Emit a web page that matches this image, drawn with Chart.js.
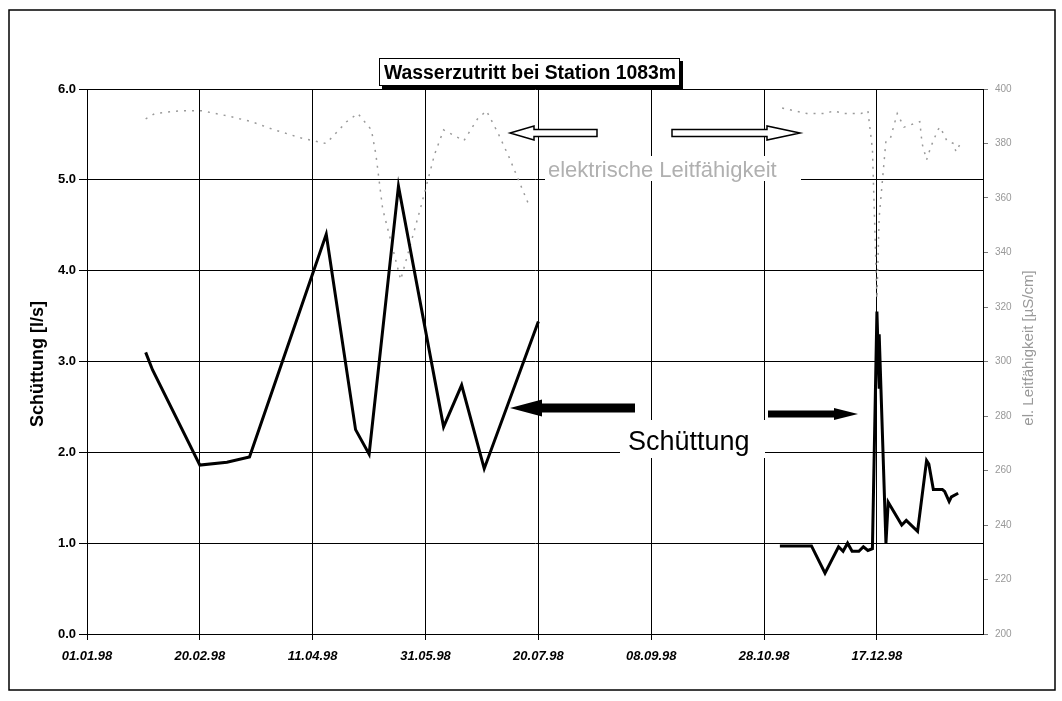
<!DOCTYPE html>
<html>
<head>
<meta charset="utf-8">
<script src="https://cdn.jsdelivr.net/npm/chart.js@4.4.1/dist/chart.umd.min.js"></script>
<style>
  body { margin: 0; background: #fff; }
  #wrap { width: 1062px; height: 701px; }
</style>
</head>
<body>
<div id="wrap"><canvas id="chart" width="1062" height="701"></canvas></div>
<script>
const xTickLabels = ['01.01.98', '20.02.98', '11.04.98', '31.05.98', '20.07.98', '08.09.98', '28.10.98', '17.12.98'];
const xMaxDate = '02.02.99';
const leftTicks = [0, 1, 2, 3, 4, 5, 6];
const rightTicks = [200, 220, 240, 260, 280, 300, 320, 340, 360, 380, 400];

const schDates = ['27.01.98', '30.01.98', '20.02.98', '04.03.98', '14.03.98', '17.04.98', '30.04.98', '06.05.98',
    '19.05.98', '08.06.98', '16.06.98', '26.06.98', '20.07.98', '01.09.98',
    '04.11.98', '18.11.98', '24.11.98', '30.11.98', '02.12.98', '04.12.98', '06.12.98', '09.12.98', '11.12.98',
    '13.12.98', '15.12.98', '17.12.98', '18.12.98', '18.12.98', '21.12.98', '22.12.98', '28.12.98', '30.12.98',
    '04.01.99', '08.01.99', '09.01.99', '11.01.99', '15.01.99', '16.01.99', '18.01.99', '19.01.99', '22.01.99'];
const schValues = [3.10, 2.91, 1.86, 1.89, 1.95, 4.40, 2.25, 1.98,
    4.93, 2.28, 2.74, 1.82, 3.44, null,
    0.97, 0.97, 0.67, 0.96, 0.91, 1.00, 0.91, 0.91, 0.96,
    0.92, 0.94, 3.55, 2.70, 3.30, 1.00, 1.45, 1.20, 1.25,
    1.13, 1.91, 1.87, 1.59, 1.59, 1.57, 1.46, 1.51, 1.55];

const lfDates = ['27.01.98', '31.01.98', '11.02.98', '21.02.98', '05.03.98', '15.03.98', '25.03.98', '06.04.98',
    '17.04.98', '26.04.98', '01.05.98', '07.05.98', '09.05.98', '12.05.98', '20.05.98', '29.05.98', '04.06.98',
    '08.06.98', '17.06.98', '23.06.98', '27.06.98', '02.07.98', '07.07.98', '16.07.98', '01.09.98',
    '05.11.98', '16.11.98', '20.11.98', '24.11.98', '28.11.98', '02.12.98', '05.12.98', '10.12.98', '13.12.98',
    '15.12.98', '17.12.98', '18.12.98', '21.12.98', '23.12.98', '26.12.98', '29.12.98',
    '05.01.99', '06.01.99', '08.01.99', '10.01.99', '13.01.99', '14.01.99', '17.01.99', '20.01.99', '21.01.99', '23.01.99'];
const lfValues = [389, 391, 392, 392, 390, 388, 385, 382,
    380, 388, 391, 385, 376, 356, 330, 357, 376,
    385, 381, 389, 392, 384, 375, 357, null,
    393, 391, 391, 391, 392, 391, 391, 391, 392,
    378, 323, 353, 381, 382, 391, 386,
    388, 380, 374, 379, 385, 386, 381, 380, 377, 380];

// days since 01.01.98
function toDay(s) {
    const [d, m, y] = s.split('.').map(Number);
    const year = y < 50 ? 2000 + y : 1900 + y;
    return (Date.UTC(year, m - 1, d) - Date.UTC(1998, 0, 1)) / 86400000;
}

const FONT = 'Arial, "Liberation Sans", sans-serif';

function arrow(ctx, tail, tip, y, shaftHalf, headLen, headHalf, filled) {
    const dir = tip > tail ? 1 : -1;
    const base = tip - dir * headLen;
    ctx.beginPath();
    ctx.moveTo(tail, y - shaftHalf);
    ctx.lineTo(base, y - shaftHalf);
    ctx.lineTo(base, y - headHalf);
    ctx.lineTo(tip, y);
    ctx.lineTo(base, y + headHalf);
    ctx.lineTo(base, y + shaftHalf);
    ctx.lineTo(tail, y + shaftHalf);
    ctx.closePath();
    if (filled) {
        ctx.fillStyle = '#000';
        ctx.fill();
    } else {
        ctx.fillStyle = '#fff';
        ctx.fill();
        ctx.lineWidth = 1.5;
        ctx.strokeStyle = '#000';
        ctx.stroke();
    }
}

// Frame, title box, axis titles and the arrow notes
const decorations = {
    id: 'decorations',
    afterDraw(chart) {
        const ctx = chart.ctx;
        ctx.save();

        // outer frame
        ctx.strokeStyle = '#000';
        ctx.lineWidth = 1.5;
        ctx.strokeRect(9, 10, 1046, 680);

        // title box with shadow
        ctx.fillStyle = '#000';
        ctx.fillRect(382, 61, 301, 28);
        ctx.fillStyle = '#fff';
        ctx.fillRect(379, 58, 301, 28);
        ctx.lineWidth = 1;
        ctx.strokeRect(379.5, 58.5, 300, 27);
        ctx.fillStyle = '#000';
        ctx.font = 'bold 20px ' + FONT;
        ctx.textAlign = 'center';
        ctx.textBaseline = 'middle';
        ctx.fillText('Wasserzutritt bei Station 1083m', 530, 73, 292);

        // left axis title
        ctx.save();
        ctx.translate(38, 364);
        ctx.rotate(-Math.PI / 2);
        ctx.font = 'bold 18px ' + FONT;
        ctx.fillText('Schüttung [l/s]', 0, 0, 130);
        ctx.restore();

        // right axis title
        ctx.save();
        ctx.translate(1029, 348);
        ctx.rotate(-Math.PI / 2);
        ctx.font = '15px ' + FONT;
        ctx.fillStyle = '#999';
        ctx.fillText('el. Leitfähigkeit [µS/cm]', 0, 0, 182);
        ctx.restore();

        // notes
        ctx.textAlign = 'left';
        ctx.textBaseline = 'alphabetic';
        ctx.fillStyle = '#fff';
        ctx.fillRect(545, 156, 256, 25);
        ctx.fillStyle = '#b0b0b0';
        ctx.font = '22px ' + FONT;
        ctx.fillText('elektrische Leitfähigkeit', 548, 177, 248);

        ctx.fillStyle = '#fff';
        ctx.fillRect(620, 420, 145, 38);
        ctx.fillStyle = '#000';
        ctx.font = '27px ' + FONT;
        ctx.fillText('Schüttung', 628, 450, 130);

        arrow(ctx, 597, 510, 133, 3.5, 24, 7, false);
        arrow(ctx, 672, 800, 133, 3.5, 33, 7, false);
        arrow(ctx, 635, 510, 408, 4.5, 32, 8.5, true);
        arrow(ctx, 768, 858, 414, 3.5, 24, 6, true);

        ctx.restore();
    }
};

const ctx = document.getElementById('chart').getContext('2d');
new Chart(ctx, {
    type: 'line',
    data: {
        datasets: [{
            label: 'Schüttung',
            data: schDates.map((d, i) => ({ x: toDay(d), y: schValues[i] })),
            borderColor: '#000',
            borderWidth: 3,
            pointRadius: 0,
            tension: 0,
            spanGaps: false,
            yAxisID: 'y',
            order: 1
        }, {
            label: 'el. Leitfähigkeit',
            data: lfDates.map((d, i) => ({ x: toDay(d), y: lfValues[i] })),
            borderColor: '#9a9a9a',
            borderWidth: 1.5,
            borderDash: [2, 6],
            pointRadius: 0,
            tension: 0,
            spanGaps: false,
            yAxisID: 'y2',
            order: 2
        }]
    },
    options: {
        responsive: false,
        animation: false,
        layout: { padding: { top: 89 } },
        plugins: {
            legend: { display: false },
            title: { display: false },
            tooltip: { enabled: false }
        },
        scales: {
            x: {
                type: 'linear',
                min: 0,
                max: toDay(xMaxDate),
                afterBuildTicks: axis => {
                    axis.ticks = xTickLabels.map(s => ({ value: toDay(s) }));
                },
                afterFit: axis => { axis.height = 67; },
                ticks: {
                    callback: (v, i) => xTickLabels[i],
                    color: '#000',
                    font: { family: FONT, size: 13, weight: 'bold', style: 'italic' },
                    padding: 9,
                    maxRotation: 0
                },
                grid: { color: '#000', lineWidth: 1, tickLength: 6 },
                border: { color: '#000', width: 1 }
            },
            y: {
                position: 'left',
                min: 0,
                max: 6,
                afterBuildTicks: axis => {
                    axis.ticks = leftTicks.map(v => ({ value: v }));
                },
                afterFit: axis => { axis.width = 87; },
                ticks: {
                    callback: v => v.toFixed(1),
                    color: '#000',
                    font: { family: FONT, size: 13, weight: 'bold' },
                    padding: 3
                },
                grid: { color: '#000', lineWidth: 1, tickLength: 8 },
                border: { color: '#000', width: 1 }
            },
            y2: {
                position: 'right',
                min: 200,
                max: 400,
                afterBuildTicks: axis => {
                    axis.ticks = rightTicks.map(v => ({ value: v }));
                },
                afterFit: axis => { axis.width = 79; },
                ticks: {
                    color: '#999',
                    font: { family: FONT, size: 10 },
                    padding: 7
                },
                grid: { drawOnChartArea: false, color: '#777', tickLength: 5 },
                border: { color: '#000', width: 1 }
            }
        }
    },
    plugins: [decorations]
});
</script>
</body>
</html>
